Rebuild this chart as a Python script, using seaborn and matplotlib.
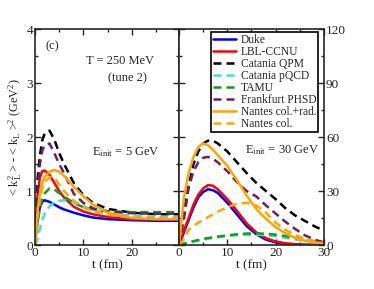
import numpy as np
import pandas as pd
import seaborn as sns
import matplotlib.pyplot as plt
from matplotlib.ticker import MultipleLocator
from matplotlib.lines import Line2D

# Model names, colours and line styles
models = ["Duke", "LBL-CCNU", "Catania QPM", "Catania pQCD", "TAMU",
          "Frankfurt PHSD", "Nantes col.+rad.", "Nantes col."]
colors = ["#0000ff", "#ff0000", "#000000", "#40e0d0", "#1a9a1a",
          "#6e1e62", "#ffa500", "#ffa500"]
solid = [True, True, False, False, False, False, True, False]

# E_init = 5 GeV panel, values in GeV^2
t5 = [0, 0.5, 1, 1.5, 2, 3, 4, 5, 6, 8, 10, 12, 15, 20, 25, 30]
duke_5 = [0, 0.45, 0.7, 0.8, 0.83, 0.8, 0.75, 0.7, 0.66, 0.6, 0.55, 0.51, 0.48, 0.46, 0.45, 0.45]
lbl_5 = [0, 0.9, 1.25, 1.37, 1.38, 1.3, 1.15, 1.0, 0.88, 0.71, 0.62, 0.57, 0.52, 0.48, 0.47, 0.47]
qpm_5 = [0, 1.2, 1.65, 1.94, 2.07, 2.12, 1.95, 1.7, 1.5, 1.15, 0.92, 0.78, 0.67, 0.6, 0.57, 0.57]
pqcd_5 = [0, 0.1, 0.3, 0.46, 0.58, 0.72, 0.79, 0.82, 0.83, 0.79, 0.72, 0.65, 0.59, 0.54, 0.52, 0.52]
tamu_5 = [0, 0.4, 0.68, 0.85, 0.96, 1.05, 1.03, 0.96, 0.9, 0.78, 0.7, 0.66, 0.63, 0.61, 0.61, 0.61]
phsd_5 = [0, 1.0, 1.5, 1.75, 1.85, 1.88, 1.7, 1.5, 1.33, 0.95, 0.78, 0.68, 0.62, 0.59, 0.58, 0.58]
nrad_5 = [0, 0.6, 0.95, 1.15, 1.26, 1.36, 1.39, 1.36, 1.28, 1.08, 0.9, 0.75, 0.6, 0.5, 0.48, 0.48]
ncol_5 = [0, 0.5, 0.85, 1.05, 1.17, 1.26, 1.25, 1.12, 1.0, 0.82, 0.7, 0.62, 0.56, 0.51, 0.5, 0.5]

# E_init = 30 GeV panel
t30 = [0, 1, 2, 3, 4, 5, 6, 7, 8, 10, 12, 14, 16, 18, 20, 22, 24, 26, 28, 30]
duke_30 = [0, 7, 14, 21, 26.5, 29.5, 31, 30.5, 29, 23.5, 17, 10.5, 6, 3, 1.5, 0.7, 0.3, 0.1, 0.05, 0]
lbl_30 = [0, 8, 15, 22.5, 28, 31.5, 33.3, 33, 31, 25.5, 19, 12, 7, 3.8, 2, 1, 0.5, 0.2, 0.1, 0.05]
qpm_30 = [0, 18, 33, 45, 52, 56.5, 58, 58, 56.5, 52, 46, 40, 34.5, 30, 25.5, 20.5, 16.5, 13.5, 10.5, 8]
pqcd_30 = [0, 0.7, 1.3, 1.9, 2.5, 3, 3.5, 3.9, 4.3, 5, 5.5, 5.8, 5.8, 5.5, 4.9, 4, 3.1, 2.3, 1.6, 1]
tamu_30 = [0, 0.8, 1.5, 2.2, 2.8, 3.4, 3.9, 4.3, 4.7, 5.4, 6, 6.4, 6.5, 6.3, 5.8, 5, 4, 3, 2.2, 1.5]
phsd_30 = [0, 14, 32, 41, 46, 48.5, 49, 48, 46, 41, 35, 30, 27, 22, 17.5, 13, 9, 5.5, 3, 1.5]
nrad_30 = [0, 26, 40, 49, 54.5, 56.5, 55.5, 53, 50, 44, 36, 27.5, 20, 14.5, 10, 6.5, 4, 2.5, 1.5, 1]
ncol_30 = [0, 3, 8.5, 10.5, 12.5, 14, 15.5, 17, 18.5, 21, 23, 23.5, 22, 18, 12.5, 8.5, 5.5, 3.5, 2, 1]

sns.set_style("ticks")
plt.rcParams["font.family"] = ["Liberation Serif", "DejaVu Serif"]
plt.rcParams["mathtext.fontset"] = "custom"
plt.rcParams["mathtext.rm"] = "Liberation Serif"
plt.rcParams["mathtext.it"] = "Liberation Serif:italic"


def long_frame(t, series):
    df = pd.DataFrame(dict(zip(models, series)))
    df["t"] = t
    return df.melt(id_vars="t", var_name="model", value_name="val")


df5 = long_frame(t5, [duke_5, lbl_5, qpm_5, pqcd_5, tamu_5, phsd_5, nrad_5, ncol_5])
df30 = long_frame(t30, [duke_30, lbl_30, qpm_30, pqcd_30, tamu_30, phsd_30, nrad_30, ncol_30])

palette = dict(zip(models, colors))
dashes = {m: ("" if s else (3.2, 2.0)) for m, s in zip(models, solid)}

fig = plt.figure(figsize=(3.74, 2.89), dpi=100)
ax1 = fig.add_axes([0.0936, 0.152, 0.385, 0.7474])
ax2 = fig.add_axes([0.4786, 0.152, 0.3877, 0.7474])

for ax, df in [(ax1, df5), (ax2, df30)]:
    sns.lineplot(data=df, x="t", y="val", hue="model", style="model",
                 hue_order=models, style_order=models, palette=palette,
                 dashes=dashes, linewidth=1.8, ax=ax, legend=False)
    ax.set_xlabel("t (fm)", fontsize=9.5, labelpad=0)
    ax.tick_params(which="both", direction="in", top=True, right=True,
                   labelsize=9.5, width=1, pad=1.5)
    ax.tick_params(which="major", length=4)
    ax.tick_params(which="minor", length=2.5)
    ax.xaxis.set_major_locator(MultipleLocator(10))
    ax.xaxis.set_minor_locator(MultipleLocator(5))
    for sp in ax.spines.values():
        sp.set_linewidth(1.2)

ax1.set_xlim(0, 29.7)
ax1.set_ylim(0, 4)
ax1.yaxis.set_major_locator(MultipleLocator(1))
ax1.yaxis.set_minor_locator(MultipleLocator(0.5))
ax1.set_ylabel(r"< $\mathrm{k_L^2}$ > - < $\mathrm{k_L}$ >$^2$ (GeV$^2$)",
               fontsize=8.7, labelpad=1.5)

ax2.set_xlim(0, 30)
ax2.set_ylim(0, 120)
ax2.yaxis.set_major_locator(MultipleLocator(30))
ax2.yaxis.set_minor_locator(MultipleLocator(15))
ax2.tick_params(labelleft=False, labelright=True)
ax2.set_ylabel("")

ax1.text(0.07, 0.92, "(c)", transform=ax1.transAxes, fontsize=9, va="center")
ax1.text(0.59, 0.852, "T = 250 MeV", transform=ax1.transAxes, fontsize=9,
         ha="center", va="center")
ax1.text(0.64, 0.773, "(tune 2)", transform=ax1.transAxes, fontsize=9,
         ha="center", va="center")
ax1.text(0.632, 0.43, r"E$_\mathrm{init}$ = 5 GeV", transform=ax1.transAxes,
         fontsize=9, ha="center", va="center")
ax2.text(0.71, 0.44, r"E$_\mathrm{init}$ = 30 GeV", transform=ax2.transAxes,
         fontsize=9, ha="center", va="center")

handles = [Line2D([], [], color=c, lw=1.8,
                  ls="-" if s else (0, (3.2, 2.0)))
           for c, s in zip(colors, solid)]
leg = ax2.legend(handles, models, loc="upper right", bbox_to_anchor=(0.96, 0.985),
                 fontsize=8.3, frameon=True, fancybox=False, edgecolor="black",
                 framealpha=1, handlelength=2.0, handletextpad=0.4,
                 labelspacing=0.0, borderpad=0.15, borderaxespad=0)
leg.get_frame().set_linewidth(1.2)

fig.savefig("out.png", dpi=100)
